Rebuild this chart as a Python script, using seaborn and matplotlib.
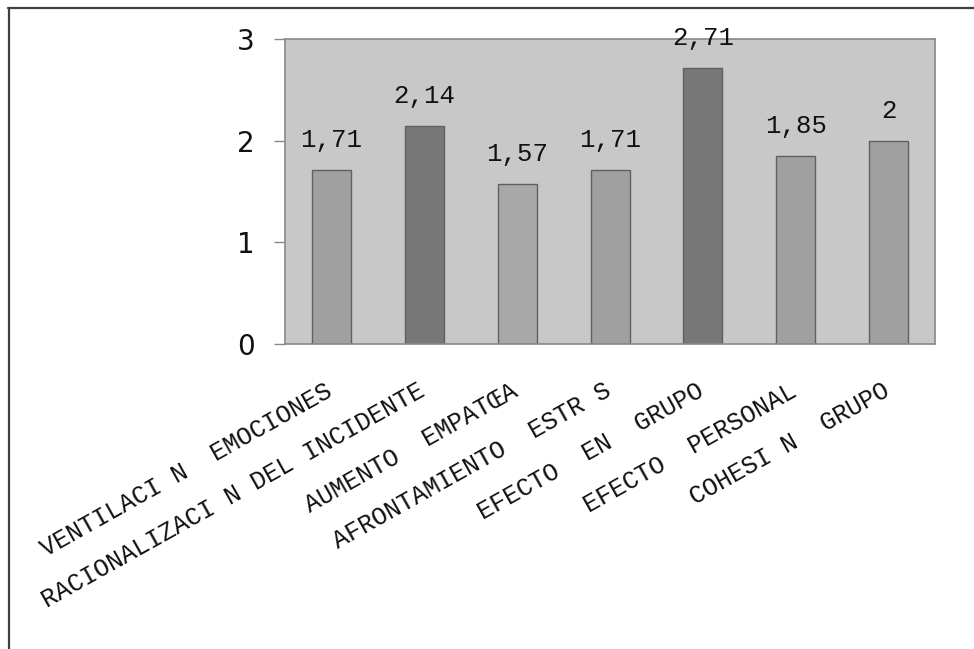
import matplotlib
matplotlib.use("Agg")
import matplotlib.pyplot as plt
from matplotlib.lines import Line2D
from matplotlib.transforms import ScaledTranslation
import seaborn as sns
import pandas as pd

categories = [
    "VENTILACI N  EMOCIONES",
    "RACIONALIZACI N DEL INCIDENTE",
    "AUMENTO  EMPATŒA",
    "AFRONTAMIENTO  ESTR S",
    "EFECTO  EN  GRUPO",
    "EFECTO  PERSONAL",
    "COHESI N  GRUPO",
]
values = [1.71, 2.14, 1.57, 1.71, 2.71, 1.85, 2.0]
bar_colors = ["#A0A0A0", "#787878", "#A8A8A8", "#A0A0A0", "#787878", "#A0A0A0", "#A0A0A0"]
y_ticks = [0, 1, 2, 3]

df = pd.DataFrame({"cat": categories, "val": values})

sns.set_theme(style="white")
plt.rcParams["font.family"] = ["DejaVu Sans"]

fig = plt.figure(figsize=(9.74, 6.49), dpi=100)
ax = fig.add_axes([285 / 974, 1 - 344 / 649, 650 / 974, 305 / 649])
ax.set_facecolor("#C8C8C8")

sns.barplot(data=df, x="cat", y="val", hue="cat", palette=bar_colors,
            legend=False, width=0.42, edgecolor="#606060", linewidth=1.0,
            saturation=1, ax=ax)

# value labels above each bar, decimal comma
for cont, v in zip(ax.containers, values):
    ax.bar_label(cont, labels=[f"{v:g}".replace(".", ",")], padding=13,
                 fontsize=18.5, family="Liberation Mono", color="#111111")

ax.set_ylim(0, 3)
ax.set_xlim(-0.5, len(categories) - 0.5)
ax.set_yticks(y_ticks)
ax.set_yticklabels([str(t) for t in y_ticks], fontsize=20, color="#111111")
ax.tick_params(axis="y", length=8, width=1, color="#888888", pad=14, left=True)
ax.tick_params(axis="x", length=0, pad=25)
ax.set_xticks(range(len(categories)))
ax.set_xticklabels(categories, rotation=29.3, ha="right", rotation_mode="anchor",
                   fontsize=18, family="Liberation Mono", color="#111111")
shift = ScaledTranslation(-7 / 100, 0, fig.dpi_scale_trans)
for lbl in ax.get_xticklabels():
    lbl.set_transform(lbl.get_transform() + shift)
ax.set_xlabel("")
ax.set_ylabel("")
for s in ax.spines.values():
    s.set_color("#888888")
    s.set_linewidth(1.2)
    s.set_visible(True)

# frame around the figure (top and left edges)
fig.add_artist(Line2D([8 / 974, 1.0], [1 - 7.5 / 649, 1 - 7.5 / 649],
                      transform=fig.transFigure, color="#404040", linewidth=1.6))
fig.add_artist(Line2D([8.5 / 974, 8.5 / 974], [0.0, 1 - 7.5 / 649],
                      transform=fig.transFigure, color="#404040", linewidth=1.6))

fig.savefig("out.png", dpi=100)
